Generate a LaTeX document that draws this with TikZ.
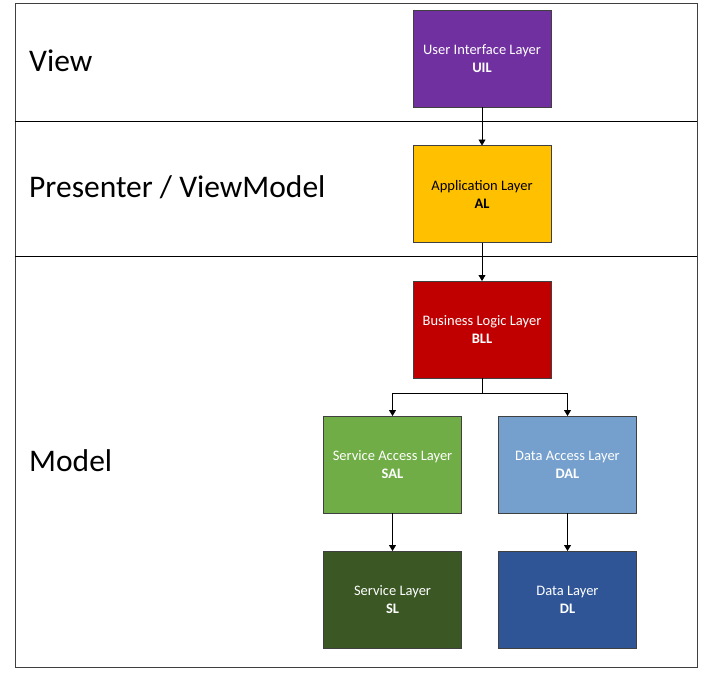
\documentclass[tikz,border=0pt]{standalone}
\usepackage{fontspec}
\setmainfont{Carlito}
\usepackage{tikz}
\usetikzlibrary{positioning, arrows.meta}
\definecolor{uilpurple}{HTML}{7030A0}
\definecolor{alyellow}{HTML}{FFC000}
\definecolor{bllred}{HTML}{C00000}
\definecolor{salgreen}{HTML}{70AD47}
\definecolor{dalblue}{HTML}{75A0CD}
\definecolor{sldark}{HTML}{3A5724}
\definecolor{dlblue}{HTML}{2F5597}
\definecolor{edgegray}{HTML}{404040}

\begin{document}
\begin{tikzpicture}[
  x=1pt, y=-1pt,
  node distance=38.5pt and 38pt,
  layerbox/.style={draw=edgegray, line width=0.8pt, outer sep=0pt,
                   minimum width=138pt, minimum height=97pt, text=white,
                   align=center, font=\fontsize{14.5}{18}\selectfont},
  tierlabel/.style={anchor=west, inner sep=0pt,
                    font=\fontsize{31.5}{34}\selectfont},
  arrow/.style={-{Triangle[width=7pt,length=6pt]}, line width=0.8pt},
]
  \useasboundingbox (0,0) rectangle (703,675);
  % Frame and tier separators
  \draw[edgegray, line width=1pt] (15,3) rectangle (697,667);
  \draw[line width=0.8pt] (15,121) -- (697,121);
  \draw[line width=0.8pt] (15,256) -- (697,256);

  % Tier labels
  \node[tierlabel] (view) at (29,61) {View};
  \node[tierlabel] (pvm) at (29,187) {Presenter / ViewModel};
  \node[tierlabel] (model) at (29,461) {Model};

  % Layers
  \node[layerbox, fill=uilpurple] (uil) at (482,58.5)
    {User Interface Layer\\\textbf{UIL}};
  \node[layerbox, fill=alyellow, text=black, below=of uil] (al)
    {Application Layer\\\textbf{AL}};
  \node[layerbox, fill=bllred, below=of al] (bll)
    {Business Logic Layer\\\textbf{BLL}};
  \node[layerbox, fill=salgreen, below=38pt of bll, xshift=-89.5pt] (sal)
    {Service Access Layer\\\textbf{SAL}};
  \node[layerbox, fill=dalblue, below=38pt of bll, xshift=85.5pt] (dal)
    {Data Access Layer\\\textbf{DAL}};
  \node[layerbox, fill=sldark, below=38pt of sal] (sl)
    {Service Layer\\\textbf{SL}};
  \node[layerbox, fill=dlblue, below=38pt of dal] (dl)
    {Data Layer\\\textbf{DL}};

  % Connectors
  \coordinate (split) at ([yshift=-15pt]bll.south);
  \draw[arrow] (uil) -- (al);
  \draw[arrow] (al) -- (bll);
  \draw[line width=0.8pt] (bll) -- (split);
  \draw[arrow] (split) -| (sal.north);
  \draw[arrow] (split) -| (dal.north);
  \draw[arrow] (sal) -- (sl);
  \draw[arrow] (dal) -- (dl);
\end{tikzpicture}
\end{document}
